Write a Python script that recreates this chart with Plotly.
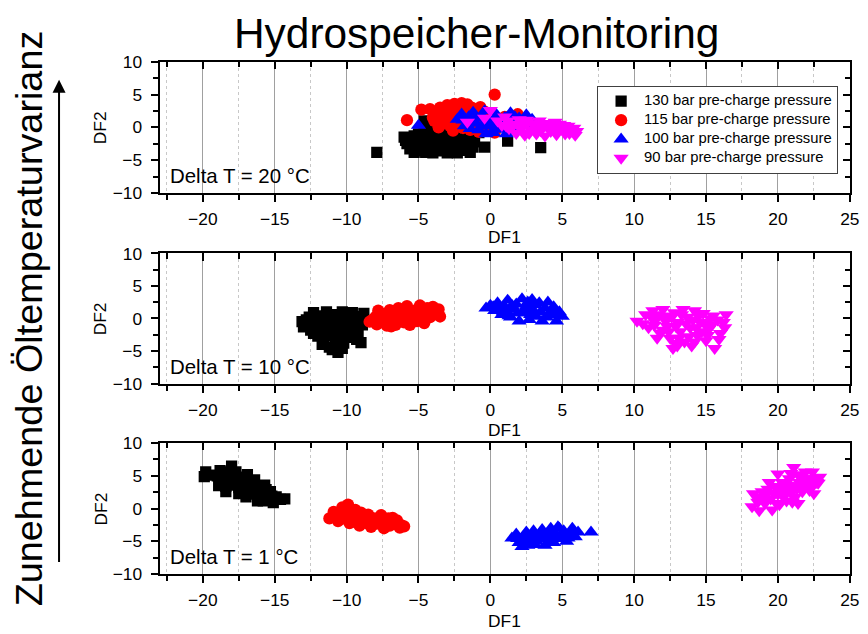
import plotly.graph_objects as go

# Figure size; the page adds the browser's default 8 px body margin and the
# capture of that page is fitted back to 868 x 634, so layout positions are
# given in final-picture pixels and converted through that mapping.
W, H = 868, 634
OFF = 8
SX = W / (W + 2 * OFF)
SY = H / (H + 2 * OFF)
S = (SX + SY) / 2
FONT = "Liberation Sans, Arial, sans-serif"

# ---------------- data: discriminant scores (DF1, DF2) ----------------
series_names = ["130 bar pre-charge pressure", "115 bar pre-charge pressure",
                "100 bar pre-charge pressure", "90 bar pre-charge pressure"]
series_colors = ["#000000", "#FF0000", "#0000FF", "#FF00FF"]
series_symbols = ["square", "circle", "triangle-up", "triangle-down"]
series_sizes = [11, 12, 13, 13]
panel_labels = ["Delta T = 20 °C", "Delta T = 10 °C", "Delta T = 1 °C"]

# Delta T = 20 °C
dt20_130_x = [-6.0, -5.8, -5.5, -5.4, -5.2, -5.0, -5.0, -4.8, -4.6, -4.6, -4.5, -4.4, -4.2, -4.0, -4.0,
              -3.8, -3.6, -3.5, -3.4, -3.2, -3.0, -3.0, -2.8, -2.6, -2.5, -2.3, -2.2, -2.0, -1.9, -1.7,
              -1.6, -1.4, -1.3, -1.2, -4.2, -5.6, -3.9, -2.9, -0.8, -7.9, -0.4, 1.2, 3.5,
              -5.9, -5.3, -4.9, -4.7, -4.3, -4.1, -3.7, -3.3, -3.1, -2.7, -2.4, -2.1, -1.8, -1.5,
              -3.6, -4.6, -2.7, -5.3, -1.1, -3.9]
dt20_130_y = [-1.5, -2.5, -1.8, -3.0, -2.2, -3.6, -1.0, -2.8, 1.0, -0.5, -3.8, -2.0, -3.2, -1.2, -3.9,
              -2.5, -0.2, -3.6, -1.6, -2.9, -3.9, -0.8, -2.2, -3.4, -1.3, -3.9, -2.7, -1.8, -3.5, -0.6,
              -2.4, -3.8, -1.5, -3.0, 0.2, -3.3, -1.0, -1.7, -0.8, -3.8, -3.0, -2.1, -3.1,
              -2.0, -1.3, -2.4, -3.2, -2.6, -1.7, -3.0, -2.2, -3.3, -2.8, -2.0, -3.2, -2.9, -1.9,
              -1.9, -1.4, -0.4, -3.8, -2.2, -3.3]
dt20_115_x = [-5.8, -4.8, 0.3, 1.9, -4.0, -3.8, -3.7, -3.5, -3.4, -3.2, -3.0, -3.0, -2.8, -2.7, -2.5,
              -2.4, -2.2, -2.1, -2.0, -1.9, -1.8, -1.6, -1.5, -1.4, -1.3, -1.0, -1.0, -0.8, -0.7, -0.5,
              -0.4, -0.2, 0.0, 0.3, 0.6, 1.0, -3.6, -2.6,
              -4.2, -3.9, -3.3, -3.1, -2.9, -2.3, -2.2, -1.9, -1.7, -1.2, -1.1, -0.6, -0.9, -2.6, -3.5]
dt20_115_y = [1.1, 2.7, 5.0, 2.0, 1.5, 2.3, 0.9, 3.0, 0.5, 2.4, 3.4, 1.2, 0.2, 2.8, 3.6,
              1.8, 0.6, 3.2, 3.7, -0.1, 2.4, 3.5, 1.2, -0.4, 3.0, 2.0, 0.3, -0.7, 3.1, 1.0,
              2.4, -0.3, 1.5, -0.8, 0.8, 1.6, 0.0, -0.5,
              2.8, 1.0, 1.6, 2.9, 2.0, 2.6, 1.2, 3.3, 1.5, 0.8, 2.7, 0.4, 1.3, 0.9, 2.2]
dt20_100_x = [-5.0, -2.3, -2.0, -1.8, -1.5, -1.2, -1.0, -0.8, -0.6, -0.4, -0.2, 0.0, 0.2, 0.4, 0.6,
              0.8, 1.0, 1.2, 1.4, 1.6, 1.8, 2.0, 2.2, 2.5, 2.6, 2.9, -0.3, 1.1, -1.4,
              -1.9, -1.0, -0.6, 0.1, 0.5, 0.9, 1.3, 1.7, 2.1, 2.4, 1.5, 0.3]
dt20_100_y = [0.3, 1.2, 2.0, 0.2, 1.6, 2.3, 0.6, -0.4, 1.8, 2.5, 0.2, 1.2, -0.8, 2.0, 0.6,
              -0.3, 1.5, 0.0, 2.2, 0.8, -0.6, 1.4, 0.2, 1.9, 0.8, 1.2, -1.0, -1.0, -0.2,
              1.1, 1.4, 0.2, 0.6, 1.3, 0.3, 1.0, 1.6, 0.8, 0.3, -0.3, -0.2]
dt20_90_x = [-1.6, 0.0, -0.4, 0.8, 1.0, 1.2, 1.3, 1.6, 1.8, 2.0, 2.2, 2.4, 2.6, 2.8, 3.0, 3.2,
             3.4, 3.6, 3.8, 4.0, 4.2, 4.4, 4.6, 4.8, 5.0, 5.2, 5.4, 5.6, 5.8, 5.9,
             1.5, 1.9, 2.3, 2.7, 3.1, 3.5, 3.9, 4.3, 4.7, 5.1, 5.5, 6.0, 0.5, 1.1, 4.5, 2.5]
dt20_90_y = [0.8, 2.6, 1.4, 0.3, 1.6, 1.0, -0.2, 0.5, -0.9, 1.2, 0.0, -1.2, 0.8, -0.4, 0.5, -1.0,
             1.0, 0.0, -1.3, 0.6, -0.6, 0.2, -1.1, 0.5, -0.3, -1.0, 0.2, -0.6, -0.1, -1.2,
             0.0, 0.4, 0.6, -0.9, 0.0, -0.5, 0.2, -0.2, -0.5, 0.3, -0.9, -0.6, 1.0, 0.2, 0.8, 1.1]

# Delta T = 10 °C
dt10_130_x = [-13.1, -13.0, -12.6, -12.5, -12.3, -12.2, -12.0, -11.9, -11.8, -11.6, -11.5, -11.4,
              -11.3, -11.2, -11.0, -10.9, -10.8, -10.6, -10.6, -10.5, -10.3, -10.2, -10.1, -10.0,
              -9.9, -9.7, -9.6, -9.4, -9.3, -9.1, -9.0, -8.9, -8.8, -12.7, -11.7, -10.3,
              -12.8, -12.4, -12.0, -11.7, -11.5, -11.1, -10.9, -10.7, -10.4, -10.2, -9.8, -9.5,
              -9.2, -9.0, -11.0, -10.0, -11.3, -12.3]
dt10_130_y = [-0.5, -1.3, 0.2, -1.8, 0.9, -0.8, -2.7, -1.6, 0.4, -3.5, -0.3, 1.0,
              -2.2, -4.4, -1.2, 0.6, -3.0, -5.2, -0.6, -2.0, 1.0, -3.8, -1.4, 0.2,
              -2.6, -0.8, 0.9, -1.8, -3.2, 0.3, -3.7, -1.0, 0.8, -1.0, -4.0, -4.6,
              -0.2, -0.6, 0.2, -1.0, -2.6, -0.2, -1.8, -3.6, 0.3, -1.0, -1.6, 0.0,
              -2.4, -0.4, -4.8, -2.9, 0.3, -2.3]
dt10_115_x = [-8.4, -8.0, -7.9, -7.6, -7.4, -7.2, -7.0, -6.8, -6.6, -6.4, -6.2, -6.0, -5.8, -5.6,
              -5.5, -5.3, -5.1, -4.9, -4.7, -4.6, -4.4, -4.2, -4.0, -3.8, -3.6, -3.5, -7.8, -6.9,
              -8.2, -7.7, -7.1, -6.7, -6.3, -5.9, -5.4, -5.2, -4.8, -4.3, -3.9, -6.1, -7.3, -4.5]
dt10_115_y = [-0.5, 0.2, -0.9, 0.8, -0.3, -1.1, 1.3, 0.0, -1.0, 1.6, 0.6, -0.6, 1.9, -1.0,
              0.2, 1.2, -0.4, 2.0, 0.7, -0.7, 1.6, 0.2, 1.8, 0.8, 1.4, 0.3, 1.2, -1.2,
              -0.2, 0.2, 0.4, 0.9, -0.1, 0.9, -0.5, 0.6, 1.3, 0.9, 1.2, 1.2, -0.7, -0.1]
dt10_100_x = [-0.3, 0.0, 0.3, 0.5, 0.8, 1.0, 1.2, 1.4, 1.6, 1.8, 2.0, 2.2, 2.3, 2.5, 2.7, 2.9,
              3.0, 3.2, 3.4, 3.6, 3.8, 4.0, 4.2, 4.4, 4.6, 4.8, 5.0, 0.9,
              0.2, 0.6, 1.1, 1.5, 1.9, 2.4, 2.8, 3.1, 3.5, 3.9, 4.3, 4.7, 1.3, 2.6]
dt10_100_y = [1.6, 2.0, 1.2, 2.4, 0.6, 1.8, 2.8, 0.2, 1.4, 2.2, -0.4, 3.0, 0.9, 1.9, -0.2, 2.9,
              1.2, 0.3, 2.4, -0.4, 1.6, 2.5, 0.5, 1.8, -0.4, 1.0, 0.3, 1.0,
              1.8, 1.5, 1.2, 2.0, 0.8, 1.4, 0.6, 2.1, 1.0, 0.2, 1.3, 0.6, 0.4, 2.5]
dt10_90_x = [10.2, 10.8, 11.0, 11.3, 11.5, 11.8, 12.0, 12.1, 12.3, 12.5, 12.7, 12.8, 13.0, 13.2,
             13.4, 13.5, 13.7, 13.9, 14.0, 14.2, 14.4, 14.6, 14.8, 15.0, 15.2, 15.5, 15.6, 15.8,
             16.0, 16.4, 16.3, 11.6, 12.9,
             10.6, 11.2, 11.7, 12.2, 12.4, 12.6, 12.9, 13.1, 13.3, 13.6, 13.8, 14.1, 14.3, 14.5,
             14.7, 14.9, 15.1, 15.3, 15.4, 12.0, 13.0, 14.2, 11.4, 16.2, 15.9]
dt10_90_y = [-0.4, 0.6, -1.4, 1.2, -0.2, -2.2, 1.4, 0.4, -1.2, -3.0, -4.6, 0.9, -0.6, -2.0,
             1.4, -3.6, 0.2, -1.4, -4.2, 1.2, -2.6, -0.6, 0.8, -3.4, -1.6, 0.4, -4.6, -0.2,
             -2.3, 0.6, -1.4, -3.0, -3.8,
             -0.8, 0.2, 0.6, -0.4, -2.0, 0.2, -1.2, -3.0, 0.6, -0.8, -2.8, -0.2, -1.4, 0.4,
             -2.0, -0.8, -2.6, 0.0, -1.0, -1.8, -4.2, -3.6, -1.0, -0.6, -3.2]

# Delta T = 1 °C
dt1_130_x = [-19.9, -19.8, -19.0, -18.9, -18.8, -18.6, -18.4, -18.2, -18.0, -17.9, -17.7, -17.5,
             -17.5, -17.4, -17.2, -17.0, -16.9, -16.7, -16.5, -16.4, -16.2, -16.0, -15.9, -15.7,
             -15.5, -15.3, -15.1, -14.9, -14.3, -18.4,
             -19.4, -18.7, -18.3, -17.8, -17.3, -16.8, -16.6, -16.1, -15.8, -15.6, -15.2, -17.0,
             -18.5, -14.6]
dt1_130_y = [4.9, 5.6, 5.0, 3.5, 5.8, 4.2, 3.4, 5.2, 6.5, 4.0, 5.6, 3.2,
             2.3, 4.8, 2.6, 4.2, 5.2, 3.4, 2.2, 4.4, 1.2, 3.0, 2.0, 3.6,
             1.6, 2.6, 0.9, 1.8, 1.5, 2.6,
             5.1, 4.8, 4.6, 3.6, 3.8, 2.9, 4.0, 2.4, 1.2, 2.9, 1.9, 1.8,
             5.6, 1.4]
dt1_115_x = [-11.2, -10.9, -10.6, -10.3, -10.1, -9.9, -9.8, -9.6, -9.3, -9.1, -9.0, -8.7, -8.5,
             -8.3, -8.1, -7.9, -7.6, -7.4, -7.2, -7.0, -6.8, -6.6, -6.2, -6.0, -10.4,
             -10.8, -10.2, -9.7, -9.4, -8.9, -8.6, -8.2, -7.8, -7.5, -7.1, -6.5, -6.3, -9.5]
dt1_115_y = [-1.5, -0.5, -1.9, 0.2, -1.0, 0.6, -2.2, -0.4, -1.4, -2.6, -0.6, -1.8, -0.9,
             -2.8, -1.5, -2.3, -1.0, -3.0, -1.9, -2.6, -1.4, -2.2, -2.5, -2.7, -1.6,
             -1.2, -0.8, -1.3, -0.2, -1.3, -2.2, -1.9, -1.5, -2.5, -1.5, -1.8, -2.9, -2.0]
dt1_100_x = [1.5, 1.8, 2.0, 2.3, 2.5, 2.6, 2.8, 3.0, 3.2, 3.4, 3.6, 3.8, 4.0, 4.2, 4.4, 4.5,
             4.7, 4.9, 5.1, 5.3, 5.5, 5.7, 5.9, 6.1, 7.0, 2.2,
             1.9, 2.4, 2.9, 3.3, 3.7, 4.1, 4.3, 4.6, 5.0, 5.4, 5.8, 3.1, 4.8]
dt1_100_y = [-4.5, -3.9, -5.2, -4.2, -3.6, -5.6, -4.6, -3.4, -5.0, -4.0, -3.2, -5.6, -4.4, -3.0,
             -5.2, -3.8, -2.8, -4.6, -3.4, -5.0, -3.9, -3.0, -4.3, -3.6, -3.6, -5.8,
             -4.6, -4.8, -4.0, -4.6, -4.2, -5.0, -3.6, -4.2, -4.0, -4.5, -3.5, -5.5, -3.0]
dt1_90_x = [18.2, 18.3, 18.5, 18.7, 18.9, 19.1, 19.3, 19.4, 19.5, 19.6, 19.8, 20.0, 20.0, 20.1,
            20.3, 20.5, 20.6, 20.8, 21.0, 21.1, 21.2, 21.4, 21.4, 21.5, 21.7, 21.9, 22.0, 22.2,
            22.4, 22.5, 22.6, 22.8, 22.9,
            18.6, 19.0, 19.2, 19.7, 20.2, 20.4, 20.7, 20.9, 21.3, 21.6, 21.8, 22.1, 22.3, 22.7,
            20.9, 21.7, 19.9, 21.0]
dt1_90_y = [0.3, 2.3, 1.8, -0.3, 2.6, 0.8, 3.0, 4.0, 1.5, -0.2, 3.4, 2.2, 5.3, 0.6,
            4.0, 2.8, 1.2, 4.6, 3.4, 6.3, 1.8, 5.2, 0.8, 4.0, 2.6, 5.6, 3.8, 2.8,
            5.6, 2.3, 4.6, 3.9, 4.8,
            1.0, 1.6, 2.2, 2.4, 3.2, 1.8, 3.6, 2.4, 3.0, 3.4, 4.6, 4.6, 3.4, 4.0,
            5.4, 5.0, 0.8, 1.0]

panels = [
    [(dt20_130_x, dt20_130_y), (dt20_115_x, dt20_115_y), (dt20_100_x, dt20_100_y), (dt20_90_x, dt20_90_y)],
    [(dt10_130_x, dt10_130_y), (dt10_115_x, dt10_115_y), (dt10_100_x, dt10_100_y), (dt10_90_x, dt10_90_y)],
    [(dt1_130_x, dt1_130_y), (dt1_115_x, dt1_115_y), (dt1_100_x, dt1_100_y), (dt1_90_x, dt1_90_y)],
]

x_range = [-23, 25]
y_range = [-10, 10]


def fx(px):
    """picture x pixel -> paper fraction"""
    return (px / SX - OFF) / W


def fy(py):
    """picture y pixel -> paper fraction"""
    return 1 - (py / SY - OFF) / H


def sz(v):
    """picture pixel size -> figure pixel size"""
    return v / S


# picture pixel boxes (top, bottom) of the three panels
panel_px = [(60, 192), (253, 384), (444, 576)]
x_left, x_right = 166.5, 852

fig = go.Figure()

for p, series in enumerate(panels):
    ax = "" if p == 0 else str(p + 1)
    for s, (xs, ys) in enumerate(series):
        fig.add_trace(go.Scatter(
            x=xs, y=ys, mode="markers",
            name='<span style="font-size:%.1fpx">%s</span>' % (sz(14.5), series_names[s]),
            xaxis="x" + ax, yaxis="y" + ax,
            showlegend=(p == 0),
            marker=dict(symbol=series_symbols[s], size=sz(series_sizes[s]),
                        color=series_colors[s], line=dict(width=0)),
            hoverinfo="skip",
        ))
    # companion empty trace for the mirrored (inside-tick) axes
    fig.add_trace(go.Scatter(x=[None], y=[None], xaxis="x" + str(p + 4), yaxis="y" + str(p + 4),
                             showlegend=False, hoverinfo="skip"))

tickfont = dict(family=FONT, size=sz(17), color="black")
MAJ, MIN_, TW = sz(7), sz(5), 1.5
layout = dict(
    width=W, height=H,
    margin=dict(l=0, r=0, t=0, b=0),
    paper_bgcolor="white", plot_bgcolor="white",
    font=dict(family=FONT, color="black"),
    showlegend=True,
    legend=dict(x=fx(601), y=fy(84), xanchor="left", yanchor="top",
                bgcolor="white", bordercolor="#404040", borderwidth=1,
                font=dict(family=FONT, size=11, color="black"),
                tracegroupgap=0, itemwidth=36),
)

for p, (top, bot) in enumerate(panel_px):
    k = "" if p == 0 else str(p + 1)
    dom_y = [fy(bot), fy(top)]
    dom_x = [fx(x_left), fx(x_right)]
    layout["xaxis" + k] = dict(
        domain=dom_x, anchor="y" + k, range=x_range, tick0=0, dtick=5,
        showline=True, linecolor="black", linewidth=2, mirror=True,
        ticks="outside", ticklen=MAJ, tickwidth=TW, tickcolor="black",
        tickfont=tickfont, ticklabelstandoff=2, ticklabeloverflow="allow",
        showgrid=True, gridcolor="#a0a0a0", gridwidth=1, zeroline=False,
        minor=dict(dtick=2.5, tick0=0, ticks="outside", ticklen=MIN_, tickwidth=TW, tickcolor="black",
                   showgrid=True, gridcolor="#c8c8c8", griddash="dot", gridwidth=1),
    )
    layout["yaxis" + k] = dict(
        domain=dom_y, anchor="x" + k, range=y_range, tick0=0, dtick=5,
        showline=True, linecolor="black", linewidth=2, mirror=True,
        ticks="outside", ticklen=MAJ, tickwidth=TW, tickcolor="black",
        tickfont=tickfont, ticklabelstandoff=5,
        showgrid=False, zeroline=False,
        minor=dict(dtick=2.5, tick0=0, ticks="outside", ticklen=MIN_, tickwidth=TW, tickcolor="black"),
    )
    # mirrored ticks pointing inwards on the top and right frames
    m = str(p + 4)
    layout["xaxis" + m] = dict(
        overlaying="x" + k, anchor="y" + m, side="top", range=x_range, tick0=0, dtick=5,
        ticks="inside", ticklen=MAJ, tickwidth=TW, tickcolor="black", showticklabels=False,
        showline=False, showgrid=False, zeroline=False,
        minor=dict(dtick=2.5, tick0=0, ticks="inside", ticklen=MIN_, tickwidth=TW, tickcolor="black"),
    )
    layout["yaxis" + m] = dict(
        overlaying="y" + k, anchor="x" + m, side="right", range=y_range, tick0=0, dtick=5,
        ticks="inside", ticklen=MAJ, tickwidth=TW, tickcolor="black", showticklabels=False,
        showline=False, showgrid=False, zeroline=False,
        minor=dict(dtick=2.5, tick0=0, ticks="inside", ticklen=MIN_, tickwidth=TW, tickcolor="black"),
    )

fig.update_layout(**layout)

annotations = []
# main title
annotations.append(dict(text="Hydrospeicher-Monitoring", x=fx(481), y=fy(31), xref="paper", yref="paper",
                        showarrow=False, xanchor="center", yanchor="middle",
                        font=dict(family=FONT, size=sz(41.5), color="black")))
# vertical caption with arrow
annotations.append(dict(text="Zunehmende Öltemperaturvarianz", x=fx(37), y=fy(318), xref="paper", yref="paper",
                        showarrow=False, textangle=-90, xanchor="center", yanchor="middle",
                        font=dict(family=FONT, size=sz(37), color="black")))
annotations.append(dict(text="", x=fx(66.5), y=fy(78), xref="paper", yref="paper",
                        ax=0, ay=(550 - 78) / SY, axref="pixel", ayref="pixel",
                        showarrow=True, arrowhead=2, arrowsize=1.3, arrowwidth=2, arrowcolor="black"))

title_y = [236, 431, 623]
for p, (top, bot) in enumerate(panel_px):
    annotations.append(dict(text="DF1", x=fx((x_left + x_right) / 2), y=fy(title_y[p]), xref="paper", yref="paper",
                            showarrow=False, xanchor="center", yanchor="middle",
                            font=dict(family=FONT, size=sz(17), color="black")))
    annotations.append(dict(text="DF2", x=fx(108), y=fy((top + bot) / 2), xref="paper", yref="paper",
                            showarrow=False, textangle=-90, xanchor="center", yanchor="middle",
                            font=dict(family=FONT, size=sz(17), color="black")))
    annotations.append(dict(text=panel_labels[p], x=fx(175), y=fy(bot - 17), xref="paper", yref="paper",
                            showarrow=False, xanchor="left", yanchor="middle",
                            font=dict(family=FONT, size=sz(20), color="black")))

fig.update_layout(annotations=annotations)

fig.write_html("out.html")
